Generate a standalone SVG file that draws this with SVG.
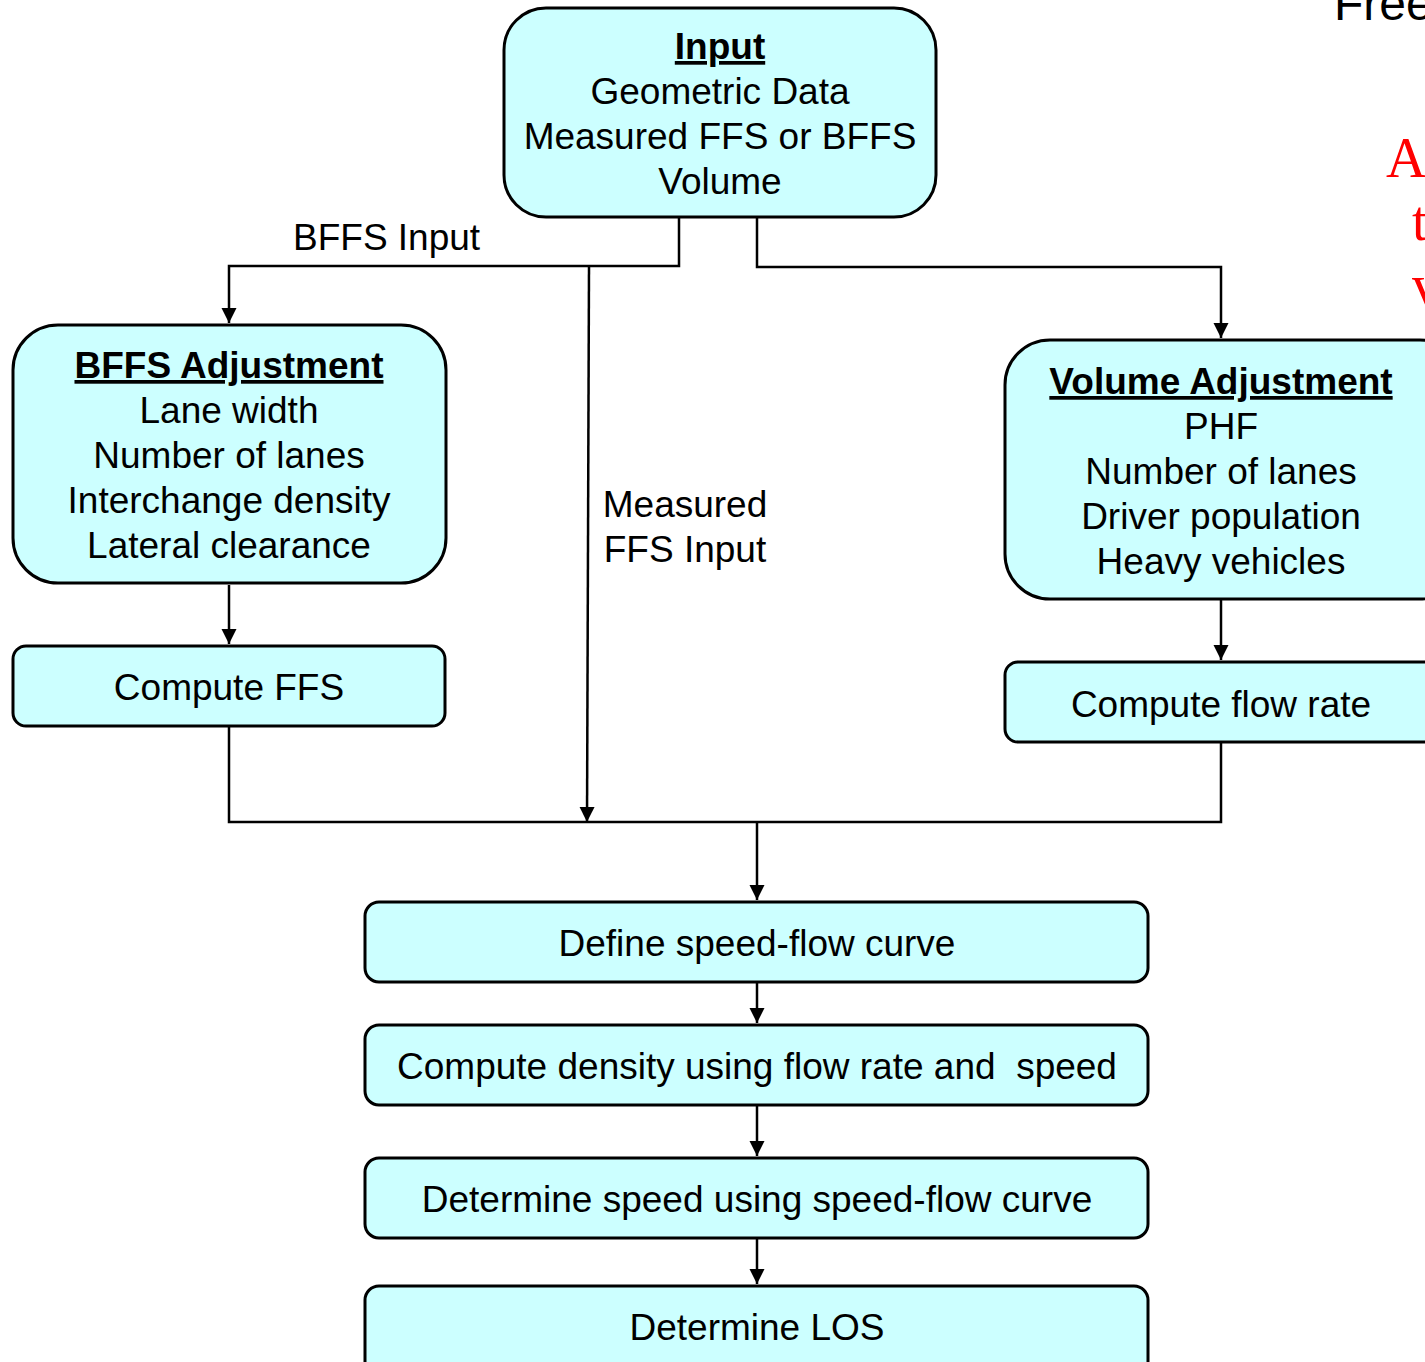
<svg xmlns="http://www.w3.org/2000/svg" width="1425" height="1362" viewBox="0 0 1425 1362">
<style>
.box{fill:#CCFFFF;stroke:#000;stroke-width:3}
.t{font-family:"Liberation Sans",Arial,sans-serif;font-size:37px;fill:#000;text-anchor:middle}
.b{font-weight:bold;text-decoration:underline}
.l{font-family:"Liberation Sans",Arial,sans-serif;font-size:37px;fill:#000}
.c{fill:none;stroke:#000;stroke-width:2.5}
.red{font-family:"Liberation Serif","Times New Roman",serif;font-size:56px;fill:#FF0000}
</style>
<defs>
<marker id="arr" markerUnits="userSpaceOnUse" markerWidth="16" markerHeight="16" refX="15" refY="7.5" orient="auto">
<path d="M0,0 L15,7.5 L0,15 z" fill="#000"/>
</marker>
</defs>
<rect width="1425" height="1362" fill="#fff"/>
<g id="connectors">
<polyline class="c" points="679,218 679,266 229,266 229,323" marker-end="url(#arr)"/>
<polyline class="c" points="757,218 757,267 1221,267 1221,338" marker-end="url(#arr)"/>
<line class="c" x1="589" y1="266" x2="587" y2="822" marker-end="url(#arr)"/>
<line class="c" x1="229" y1="585" x2="229" y2="644" marker-end="url(#arr)"/>
<line class="c" x1="1221" y1="600" x2="1221" y2="660" marker-end="url(#arr)"/>
<polyline class="c" points="229,727 229,822 1221,822 1221,743"/>
<line class="c" x1="757" y1="822" x2="757" y2="900" marker-end="url(#arr)"/>
<line class="c" x1="757" y1="983" x2="757" y2="1023" marker-end="url(#arr)"/>
<line class="c" x1="757" y1="1106" x2="757" y2="1156" marker-end="url(#arr)"/>
<line class="c" x1="757" y1="1239" x2="757" y2="1284" marker-end="url(#arr)"/>
<text class="l" x="293" y="250">BFFS Input</text>
<text class="t" x="685" y="517">Measured</text>
<text class="t" x="685" y="562">FFS Input</text>
</g>
<g id="input">
<rect class="box" x="504" y="8" width="432" height="209" rx="42"/>
<text class="t b" x="720" y="59">Input</text>
<text class="t" x="720" y="104">Geometric Data</text>
<text class="t" x="720" y="149">Measured FFS or BFFS</text>
<text class="t" x="720" y="194">Volume</text>
</g>
<g id="bffs-adjustment">
<rect class="box" x="13" y="325" width="433" height="258" rx="45"/>
<text class="t b" x="229" y="378">BFFS Adjustment</text>
<text class="t" x="229" y="423">Lane width</text>
<text class="t" x="229" y="468">Number of lanes</text>
<text class="t" x="229" y="513">Interchange density</text>
<text class="t" x="229" y="558">Lateral clearance</text>
</g>
<g id="compute-ffs">
<rect class="box" x="13" y="646" width="432" height="80" rx="13"/>
<text class="t" x="229" y="700">Compute FFS</text>
</g>
<g id="volume-adjustment">
<rect class="box" x="1005" y="340" width="460" height="259" rx="45"/>
<text class="t b" x="1221" y="394">Volume Adjustment</text>
<text class="t" x="1221" y="439">PHF</text>
<text class="t" x="1221" y="484">Number of lanes</text>
<text class="t" x="1221" y="529">Driver population</text>
<text class="t" x="1221" y="574">Heavy vehicles</text>
</g>
<g id="compute-flow-rate">
<rect class="box" x="1005" y="662" width="460" height="80" rx="13"/>
<text class="t" x="1221" y="717">Compute flow rate</text>
</g>
<g id="define-curve">
<rect class="box" x="365" y="902" width="783" height="80" rx="14"/>
<text class="t" x="757" y="956">Define speed-flow curve</text>
</g>
<g id="compute-density">
<rect class="box" x="365" y="1025" width="783" height="80" rx="14"/>
<text class="t" x="757" y="1079" xml:space="preserve">Compute density using flow rate and  speed</text>
</g>
<g id="determine-speed">
<rect class="box" x="365" y="1158" width="783" height="80" rx="14"/>
<text class="t" x="757" y="1212">Determine speed using speed-flow curve</text>
</g>
<g id="determine-los">
<rect class="box" x="365" y="1286" width="783" height="100" rx="14"/>
<text class="t" x="757" y="1340">Determine LOS</text>
</g>
<g id="margin-text">
<text class="l" x="1334" y="20" style="font-size:48px">Free</text>
<text class="red" x="1386" y="177">A</text>
<text class="red" x="1412" y="240">t</text>
<text class="red" x="1412" y="304">v</text>
</g>
</svg>
